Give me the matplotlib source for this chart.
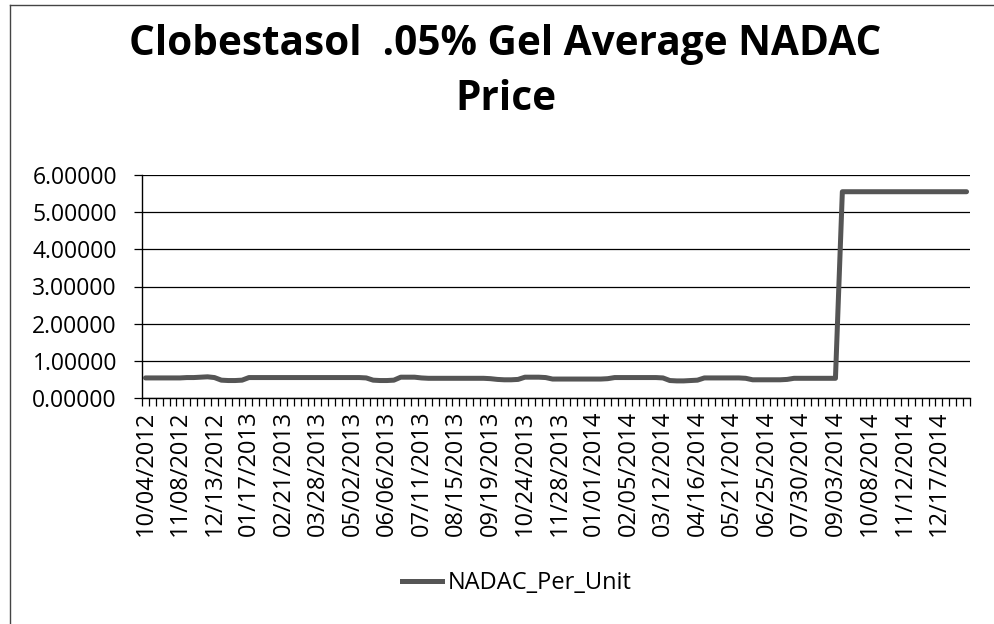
import matplotlib
matplotlib.use("Agg")
import matplotlib.pyplot as plt
import numpy as np
from matplotlib.lines import Line2D

plt.rcParams['font.family'] = ['Open Sans', 'DejaVu Sans']

title = "Clobestasol  .05% Gel Average NADAC\nPrice"
series_name = "NADAC_Per_Unit"

tick_labels = ["10/04/2012", "11/08/2012", "12/13/2012", "01/17/2013", "02/21/2013",
               "03/28/2013", "05/02/2013", "06/06/2013", "07/11/2013", "08/15/2013",
               "09/19/2013", "10/24/2013", "11/28/2013", "01/01/2014", "02/05/2014",
               "03/12/2014", "04/16/2014", "05/21/2014", "06/25/2014", "07/30/2014",
               "09/03/2014", "10/08/2014", "11/12/2014", "12/17/2014"]

# weekly average NADAC per unit (one value per weekly category)
nadac_per_unit = [
    0.54, 0.54, 0.54, 0.54, 0.54, 0.54, 0.55, 0.55, 0.56, 0.57,
    0.55, 0.48, 0.47, 0.47, 0.48, 0.55, 0.55, 0.55, 0.55, 0.55,
    0.55, 0.55, 0.55, 0.55, 0.55, 0.55, 0.55, 0.55, 0.55, 0.55,
    0.55, 0.55, 0.54, 0.48, 0.47, 0.47, 0.48, 0.56, 0.56, 0.56,
    0.54, 0.53, 0.53, 0.53, 0.53, 0.53, 0.53, 0.53, 0.53, 0.53,
    0.52, 0.50, 0.49, 0.49, 0.50, 0.56, 0.56, 0.56, 0.55, 0.51,
    0.51, 0.51, 0.51, 0.51, 0.51, 0.51, 0.51, 0.52, 0.55, 0.55,
    0.55, 0.55, 0.55, 0.55, 0.55, 0.54, 0.47, 0.46, 0.46, 0.47,
    0.48, 0.54, 0.54, 0.54, 0.54, 0.54, 0.54, 0.53, 0.49, 0.49,
    0.49, 0.49, 0.49, 0.50, 0.53, 0.53, 0.53, 0.53, 0.53, 0.53,
    0.53, 5.55, 5.55, 5.55, 5.55, 5.55, 5.55, 5.55, 5.55, 5.55,
    5.55, 5.55, 5.55, 5.55, 5.55, 5.55, 5.55, 5.55, 5.55, 5.55,
]

y_ticks = [0, 1, 2, 3, 4, 5, 6]

fig = plt.figure(figsize=(9.95, 6.24), dpi=100)
W, H = 995, 624
ax = fig.add_axes([142 / W, 1 - 398 / H, (970 - 142) / W, (398 - 175) / H])

n = len(nadac_per_unit)
x = np.arange(n)
line_color = '#555555'
ax.plot(x, nadac_per_unit, color=line_color, lw=3.6, solid_joinstyle='round',
        solid_capstyle='round', label=series_name, zorder=3)

ax.set_xlim(-0.5, n - 0.5)
ax.set_ylim(0, 6)
ax.set_yticks(y_ticks)
ax.set_yticklabels([f"{v:.5f}" for v in y_ticks], fontsize=16.5)
ax.yaxis.grid(True, color='black', lw=0.9)
ax.set_axisbelow(True)

label_pos = np.arange(len(tick_labels)) * 5
ax.set_xticks(label_pos)
ax.set_xticklabels(tick_labels, rotation=90, fontsize=17)
ax.tick_params(axis='x', which='major', length=0, pad=9)
ax.set_xticks(np.arange(n + 1) - 0.5, minor=True)
ax.tick_params(axis='x', which='minor', length=6, width=0.9, direction='out')
ax.tick_params(axis='y', length=6, width=0.9, pad=12)

for s in ['top', 'right']:
    ax.spines[s].set_visible(False)
for s in ['left', 'bottom']:
    ax.spines[s].set_linewidth(1.0)
    ax.spines[s].set_color('black')

fig.text(0.508, 1 - 72 / H, title, ha='center', va='center', fontsize=29.2,
         fontweight='bold', linespacing=1.45)

fig.legend(handles=[Line2D([0], [0], color=line_color, lw=3.6)], labels=[series_name],
           loc='center', bbox_to_anchor=(517 / W, 1 - 583 / H), frameon=False,
           fontsize=17, handlelength=1.7, handletextpad=0.25)

# chart border (left and top visible)
fig.add_artist(Line2D([10 / W, 10 / W], [0, 1 - 5 / H], color='#444444', lw=1.0,
                      transform=fig.transFigure))
fig.add_artist(Line2D([10 / W, 1], [1 - 5 / H, 1 - 5 / H], color='#444444', lw=1.0,
                      transform=fig.transFigure))

fig.savefig('out.png', dpi=100)
